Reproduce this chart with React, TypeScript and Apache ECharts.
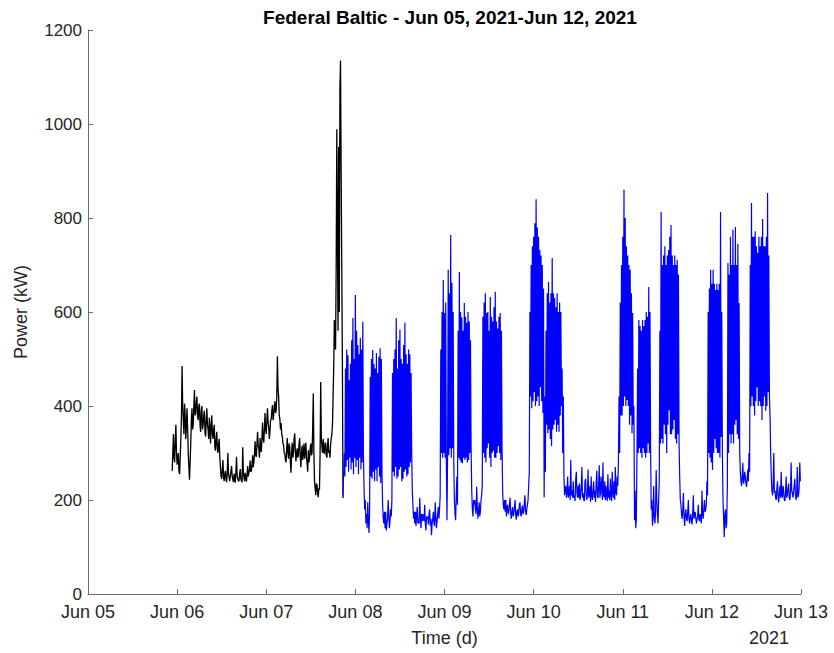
import React, { useEffect, useRef } from "react";
import * as echarts from "echarts";

const chartTitle = "Federal Baltic - Jun 05, 2021-Jun 12, 2021";
const dayLabels = ["Jun 05", "Jun 06", "Jun 07", "Jun 08", "Jun 09", "Jun 10", "Jun 11", "Jun 12", "Jun 13"];
const yearLabel = "2021";
const xName = "Time (d)";
const yName = "Power (kW)";

// sampling: 10-minute readings, start times in minutes after Jun 05 00:00
const stepMinutes = 10;
const blackStartMinutes = 22 * 60 + 40; // Jun 05 22:40
const blueStartMinutes = 2 * 1440 + 20 * 60 + 40; // Jun 07 20:40

const blackPower = [
  262, 300, 340, 290, 280, 330, 360, 300, 275, 290,
  300, 260, 255, 290, 330, 380,
  485, 400,
  370, 340, 405, 380, 330, 360, 395, 350,
  300, 270, 243, 280,
  320, 370, 395, 350, 360, 400, 434, 380, 385, 410,
  420, 380, 370, 400, 405, 360, 345, 390, 400, 350, 360, 380, 390, 345, 335, 370, 395, 360, 350, 330,
  375, 350, 320, 360, 380, 340, 330, 350, 360, 310, 305, 330, 345, 310, 300, 320, 330, 290,
  270, 250, 245, 265, 285, 250, 240, 255, 262, 245, 238, 260, 300, 255, 248, 240, 240, 262, 272, 250,
  244, 238, 256, 245, 237, 260, 292, 250, 250, 240, 241, 255, 266, 245, 240, 238, 312, 260, 248, 240,
  258, 245, 239, 255, 272, 250, 250, 265, 284, 260, 262, 275, 295, 270,
  280, 300, 325, 295, 292, 320, 345, 315, 310, 290, 332, 310, 302, 330, 365, 330, 322, 350, 385, 350,
  340, 370, 395, 365, 355, 330, 345, 370, 372, 390, 402, 370, 380, 400, 410, 385, 390, 420,
  506, 440,
  420, 380, 372, 350, 364, 340, 335, 320,
  318, 300, 298, 285, 280, 310, 332, 300, 288, 320, 312, 280, 258, 300, 322, 290, 300, 330, 342, 305,
  282, 300, 310, 290, 296, 320, 332, 290, 270, 300, 316, 285, 300, 320, 288, 305, 322, 290, 278, 260,
  306, 280, 290, 310, 320, 295, 300, 350,
  427, 300,
  240, 225, 210, 235, 232, 215, 206, 225, 222, 300,
  451, 330,
  312, 300, 330, 305, 298, 320, 322, 295, 290, 315, 332, 300, 305, 290, 318, 330, 340, 360,
  420, 480, 583, 540, 520, 700, 989, 760, 560, 951, 600, 1076, 1135, 900, 700, 500,
  204,
];

const bluePower = [
  210, 260, 300, 250,
  480, 270, 520, 285, 508, 260, 455, 290, 490, 265, 540, 280, 587, 255, 500, 290,
  636, 270, 560, 285, 530, 255, 510, 290, 545, 265, 520, 280, 579, 300,
  225, 180, 200, 150, 170, 140, 195, 160, 130, 175,
  462, 250, 500, 245, 519, 260, 490, 240, 480, 265, 513, 240, 470, 270, 505, 250, 523, 236, 500, 260,
  190, 160, 150, 175, 140, 175, 135, 150, 160, 200, 170, 140, 155, 180, 165, 200,
  470, 260, 500, 250, 520, 270, 587, 245, 480, 250, 540, 265, 562, 270, 500, 240,
  490, 245, 530, 260, 577, 265, 510, 250, 490, 255, 520, 270, 510, 280, 470, 300,
  220, 190, 160, 175, 150, 175, 145, 170, 185, 150, 160, 150, 205, 165, 140, 170, 155, 170, 160, 155,
  190, 150, 135, 165, 160, 165, 148, 170, 180, 145, 160, 125, 150, 160, 175, 150, 145, 195, 165, 140,
  155, 170, 185, 160, 180, 210,
  520, 300, 600, 290, 668, 300, 598, 290, 620, 280, 157, 300, 690, 295, 640, 310, 764, 290, 662, 310, 600, 280,
  200, 170, 157, 210, 250, 190,
  560, 290, 685, 285, 600, 280, 589, 278, 560, 290, 619, 285, 590, 290, 577, 280, 600, 285, 580, 300, 540, 310,
  220, 180, 165, 200, 190, 200, 180, 170, 228, 185, 160, 175, 195, 165, 175, 200, 210, 230,
  590, 300, 620, 290, 640, 280, 598, 310, 600, 320, 560, 290, 632, 270, 590, 300,
  580, 305, 610, 290, 643, 290, 580, 300, 565, 315, 590, 300, 598, 285, 560, 310,
  215, 190, 180, 200, 175, 200, 165, 185, 190, 170, 175, 190, 205, 170, 160, 175, 185, 165, 170, 185,
  200, 170, 158, 175, 180, 165, 172, 190, 195, 170, 165, 180, 188, 170, 176, 195, 210, 175, 168, 180,
  190, 200, 230, 260,
  600, 420, 700, 395, 740, 410, 760, 430, 789, 400, 840, 410, 780, 420, 760, 400, 732, 440, 720, 410,
  700, 385, 650, 206, 420, 260,
  560, 360, 640, 342, 664, 350, 620, 330, 640, 315, 715, 350, 640, 360, 630, 370, 610, 345, 640, 360,
  600, 345, 620, 380, 600, 400, 480, 300, 420, 250,
  210, 225, 230, 205, 215, 250, 205, 215, 230, 200, 285, 210, 220, 205, 240, 205, 210, 198, 245, 260,
  215, 205, 230, 205, 235, 200, 210, 230, 270, 205, 215, 200, 198, 240, 245, 210, 200, 215, 265, 205,
  212, 230, 196, 250, 208, 200, 220, 240, 205, 220, 196, 235, 262, 210, 204, 230, 274, 205, 215, 250,
  230, 200, 280, 210, 205, 240, 200, 230, 210, 198, 255, 205, 220, 200, 245, 210, 198, 260, 215, 205,
  240, 200, 270, 215, 210, 250, 230, 280,
  420, 300, 620, 380, 700, 380, 760, 400, 860, 420, 800, 400, 740, 413, 720, 400, 700, 360, 690, 380,
  640, 342, 598, 360, 400, 157, 220, 140,
  160, 300, 480, 300, 583, 310, 570, 300, 560, 290, 583, 310, 570, 300, 583, 290, 600, 300, 590, 320,
  653, 300, 600, 310,
  180, 200, 145, 170, 230, 160, 150, 175, 264, 200, 170, 150, 200, 240,
  560, 320, 813, 330, 700, 320, 720, 360, 740, 340, 700, 300, 720, 360, 732, 391,
  760, 340, 785, 340, 720, 350, 700, 370, 720, 330, 700, 320, 711, 340, 680, 320,
  250, 200, 190, 170, 160, 180, 215, 165, 145, 170, 180, 160, 155, 175, 200, 160, 150, 165, 170, 155,
  148, 170, 210, 160, 160, 175, 175, 150, 150, 165, 190, 160, 155, 170, 165, 150, 220, 170, 160, 180,
  200, 175, 180, 190, 240, 210,
  600, 300, 650, 290, 690, 280, 660, 264, 690, 300, 660, 330, 647, 310, 660, 300, 647, 300, 660, 290,
  813, 334, 600, 300,
  200, 160, 121, 170, 180, 140, 150, 230,
  704, 300, 680, 340, 760, 320, 700, 340, 775, 320, 700, 360, 781, 370, 700, 340, 745, 330, 619, 300,
  260, 240, 230, 250, 279, 235, 240, 260, 250, 235, 228, 245, 265, 240, 300, 260,
  700, 400, 832, 420, 760, 400, 760, 380, 772, 410, 740, 440, 726, 400, 760, 410, 740, 400, 760, 370,
  798, 400, 740, 420, 740, 390, 760, 400, 853, 430, 720, 420, 380, 300,
  250, 220, 210, 230, 300, 215, 220, 205, 200, 225, 240, 205, 195, 215, 230, 205, 260, 210, 205, 230,
  220, 200, 198, 215, 250, 205, 210, 225, 235, 205, 200, 215, 280, 220, 215, 205, 205, 230, 245, 210,
  200, 215, 270, 205, 210, 225, 280, 240,
];

const toPairs = (startMin: number, values: number[]) =>
  values.map((v, i) => [(startMin + i * stepMinutes) / 1440, v]);

const FONT = "'Liberation Sans', Arial, Helvetica, sans-serif";
const AXIS_COLOR = "#6b6b6b";
const TEXT_COLOR = "#262626";

export default function App() {
  const ref = useRef<HTMLDivElement>(null);
  useEffect(() => {
    if (!ref.current) return;
    const chart = echarts.init(ref.current, undefined, { renderer: "svg" });
    chart.setOption({
      animation: false,
      backgroundColor: "#ffffff",
      title: {
        text: chartTitle,
        left: 445,
        top: 3,
        textAlign: "center",
        textStyle: { fontFamily: FONT, fontSize: 19, fontWeight: "bold", color: "#000000" },
      },
      grid: { left: 88, right: 33, top: 30, bottom: 59, containLabel: false },
      xAxis: {
        type: "value",
        min: 0,
        max: 8,
        interval: 1,
        name: xName,
        nameLocation: "middle",
        nameGap: 35,
        nameTextStyle: { fontFamily: FONT, fontSize: 18, color: TEXT_COLOR },
        axisLine: { lineStyle: { color: AXIS_COLOR, width: 1 } },
        axisTick: { inside: true, length: 5, lineStyle: { color: AXIS_COLOR } },
        axisLabel: {
          fontFamily: FONT,
          fontSize: 18,
          color: TEXT_COLOR,
          margin: 9,
          formatter: (v: number) => dayLabels[Math.round(v)] ?? "",
        },
        splitLine: { show: false },
      },
      yAxis: {
        type: "value",
        min: 0,
        max: 1200,
        interval: 200,
        name: yName,
        nameLocation: "middle",
        nameGap: 58,
        nameTextStyle: { fontFamily: FONT, fontSize: 18, color: TEXT_COLOR },
        axisLine: { show: true, lineStyle: { color: AXIS_COLOR, width: 1 } },
        axisTick: { show: true, inside: true, length: 5, lineStyle: { color: AXIS_COLOR } },
        axisLabel: {
          fontFamily: FONT,
          fontSize: 17,
          color: TEXT_COLOR,
          margin: 6,
          formatter: (v: number) => String(v),
        },
        splitLine: { show: false },
      },
      graphic: [
        {
          type: "text",
          x: 769,
          y: 638,
          style: {
            text: yearLabel,
            fontFamily: FONT,
            fontSize: 18,
            fill: TEXT_COLOR,
            textAlign: "center",
            textVerticalAlign: "middle",
          },
        },
      ],
      series: [
        {
          type: "line",
          data: toPairs(blackStartMinutes, blackPower),
          showSymbol: false,
          lineStyle: { color: "#000000", width: 1.3 },
          itemStyle: { color: "#000000" },
          z: 2,
        },
        {
          type: "line",
          data: toPairs(blueStartMinutes, bluePower),
          showSymbol: false,
          lineStyle: { color: "#0000ff", width: 1.2 },
          itemStyle: { color: "#0000ff" },
          z: 3,
        },
      ],
    });
    return () => chart.dispose();
  }, []);
  return (
    <div
      ref={ref}
      style={{ position: "fixed", left: 0, top: 0, width: 834, height: 653, background: "#fff" }}
    />
  );
}
